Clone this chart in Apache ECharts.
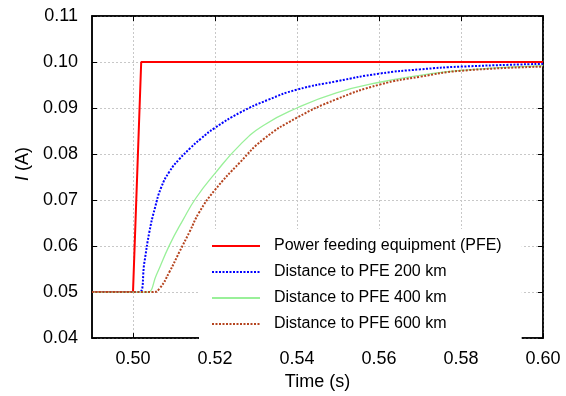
<!DOCTYPE html>
<html>
<head>
<meta charset="utf-8">
<script src="https://cdn.jsdelivr.net/npm/echarts@6/dist/echarts.min.js"></script>
<style>
  html, body { margin: 0; padding: 0; background: #fff; }
  #chart { width: 566px; height: 396px; }
</style>
</head>
<body>
<div id="chart"></div>
<script>
// series names (legend order)
var seriesNames = [
  'Power feeding equipment (PFE)',
  'Distance to PFE 200 km',
  'Distance to PFE 400 km',
  'Distance to PFE 600 km'
];

// PFE current step
var tPFE = [0.49, 0.500, 0.502, 0.60];
var iPFE = [0.05, 0.05, 0.10, 0.10];

// 200 km
var t200 = [0.49, 0.500, 0.5016, 0.5028, 0.5040, 0.5053, 0.5069, 0.5089, 0.5113, 0.5140, 0.5165, 0.520, 0.5261, 0.5330, 0.540, 0.5496, 0.5602, 0.570, 0.580, 0.600];
var i200 = [0.05, 0.050, 0.0500, 0.0566, 0.0631, 0.0681, 0.0728, 0.0762, 0.0789, 0.0813, 0.0833, 0.0857, 0.0890, 0.0918, 0.0940, 0.0958, 0.0975, 0.0984, 0.0990, 0.0996];

// 400 km
var t400 = [0.49, 0.502, 0.5036, 0.5057, 0.5089, 0.5122, 0.5154, 0.520, 0.5261, 0.5318, 0.540, 0.5496, 0.5602, 0.570, 0.580, 0.600];
var i400 = [0.05, 0.050, 0.0500, 0.0537, 0.0602, 0.0657, 0.0705, 0.0758, 0.0820, 0.0862, 0.0900, 0.0933, 0.0956, 0.0971, 0.0982, 0.0992];

// 600 km
var t600 = [0.49, 0.503, 0.5049, 0.5065, 0.5089, 0.5113, 0.5138, 0.5162, 0.5199, 0.5261, 0.5318, 0.540, 0.5496, 0.5602, 0.570, 0.580, 0.600];
var i600 = [0.05, 0.050, 0.0500, 0.0508, 0.0544, 0.0587, 0.0631, 0.0674, 0.0721, 0.0782, 0.0832, 0.0879, 0.0919, 0.0951, 0.0968, 0.0981, 0.0990];

// axes
var xTicks = [0.50, 0.52, 0.54, 0.56, 0.58, 0.60];
var xMin = 0.49, xMax = 0.60;
var yMin = 0.04, yMax = 0.11, yStep = 0.01;

function pairs(ts, vs) {
  return ts.map(function (t, k) { return [t, vs[k]]; });
}

var chart = echarts.init(document.getElementById('chart'));
var font = 'Liberation Sans, Arial, sans-serif';
var gridLine = { show: true, lineStyle: { color: '#c8c8c8', type: [2, 2], width: 1 } };

var option = {
  animation: false,
  textStyle: { fontFamily: font },
  grid: { left: 92, right: 23, top: 16, bottom: 56, show: true, borderColor: '#000', borderWidth: 1.5 },
  legend: {
    orient: 'vertical',
    left: 199, top: 229,
    padding: [9, 20, 12, 12],
    backgroundColor: '#fff',
    itemWidth: 48, itemHeight: 14, itemGap: 10,
    itemStyle: { opacity: 0 },
    textStyle: { fontSize: 16, color: '#000', fontFamily: font, padding: [0, 0, 0, 9] },
    data: seriesNames
  },
  xAxis: [{
    type: 'value', min: xMin, max: xMax,
    name: 'Time (s)', nameLocation: 'middle', nameGap: 32,
    nameTextStyle: { fontSize: 18, color: '#000', fontFamily: font },
    axisLine: { lineStyle: { color: '#000', width: 1.5 } },
    axisTick: { inside: true, length: 5, customValues: xTicks, lineStyle: { color: '#000' } },
    axisLabel: { customValues: xTicks, fontSize: 18, color: '#000', margin: 12,
      formatter: function (v) { return v.toFixed(2); } },
    splitLine: gridLine
  }, {
    type: 'value', min: xMin, max: xMax, position: 'top',
    axisLine: { lineStyle: { color: '#000', width: 1.5 } },
    axisTick: { inside: true, length: 5, customValues: xTicks, lineStyle: { color: '#000' } },
    axisLabel: { show: false },
    splitLine: { show: false }
  }],
  yAxis: [{
    type: 'value', min: yMin, max: yMax, interval: yStep,
    name: '{i|I} (A)', nameLocation: 'middle', nameGap: 52,
    nameTextStyle: { fontSize: 18, color: '#000', fontFamily: font, padding: [0, 0, 0, 26],
      rich: { i: { fontStyle: 'italic', fontSize: 18, fontFamily: font } } },
    axisLine: { lineStyle: { color: '#000', width: 1.5 } },
    axisTick: { inside: true, length: 5, lineStyle: { color: '#000' } },
    axisLabel: { fontSize: 18, color: '#000', margin: 14,
      formatter: function (v) { return v.toFixed(2); } },
    splitLine: gridLine
  }, {
    type: 'value', min: yMin, max: yMax, interval: yStep, position: 'right',
    axisLine: { lineStyle: { color: '#000', width: 1.5 } },
    axisTick: { inside: true, length: 5, lineStyle: { color: '#000' } },
    axisLabel: { show: false },
    splitLine: { show: false }
  }],
  series: [{
    name: seriesNames[0], type: 'line', showSymbol: false, symbol: 'none',
    data: pairs(tPFE, iPFE),
    itemStyle: { color: '#ff0000' },
    lineStyle: { color: '#ff0000', width: 2 }
  }, {
    name: seriesNames[1], type: 'line', showSymbol: false, symbol: 'none',
    smooth: 0.5,
    data: pairs(t200, i200),
    itemStyle: { color: '#0000ff' },
    lineStyle: { color: '#0000ff', width: 2, type: [2, 1.5] }
  }, {
    name: seriesNames[2], type: 'line', showSymbol: false, symbol: 'none',
    smooth: 0.5,
    data: pairs(t400, i400),
    itemStyle: { color: '#99f099' },
    lineStyle: { color: '#99f099', width: 1.3 }
  }, {
    name: seriesNames[3], type: 'line', showSymbol: false, symbol: 'none',
    smooth: 0.5,
    data: pairs(t600, i600),
    itemStyle: { color: '#b5441f' },
    lineStyle: { color: '#b5441f', width: 2, type: [2, 1.5] }
  }]
};

chart.setOption(option);
</script>
</body>
</html>
